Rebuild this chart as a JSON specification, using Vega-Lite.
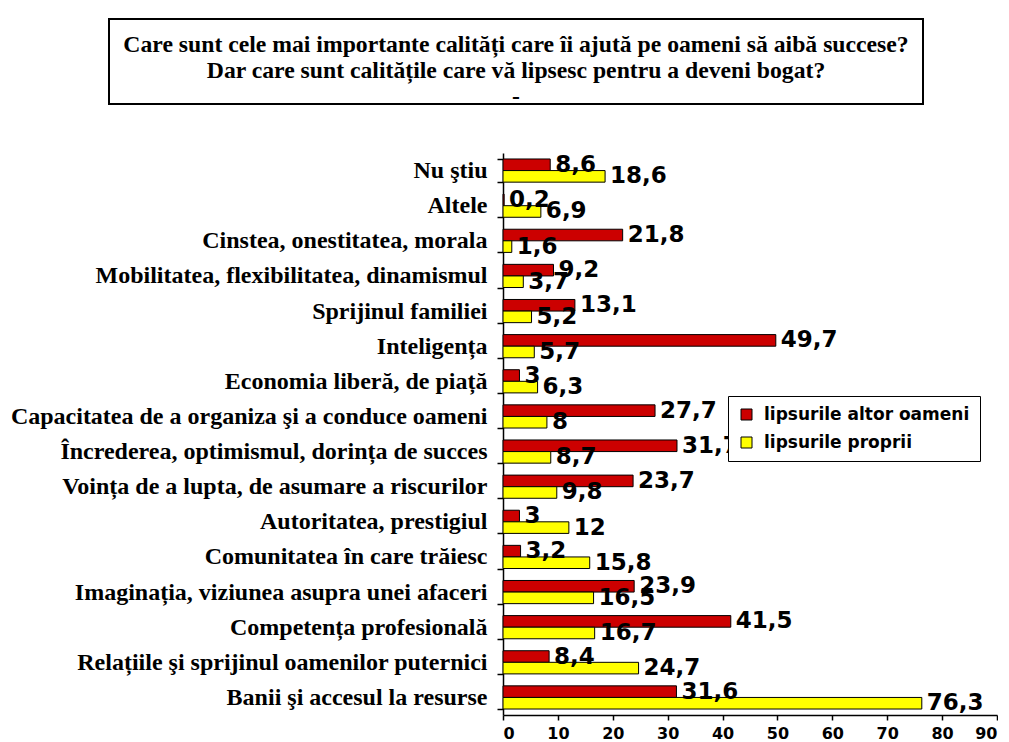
{
  "$schema": "https://vega.github.io/schema/vega-lite/v6.json",
  "padding": {"left": 9, "top": 18, "right": 0, "bottom": 5},
  "background": "white",
  "spacing": 30,
  "resolve": {"legend": {"color": "independent"}},
  "config": {
    "locale": {"number": {"decimal": ",", "thousands": ".", "grouping": [3], "currency": ["", " lei"]}},
    "axis": {"grid": false, "domainColor": "black", "tickColor": "black", "labelColor": "black"}
  },
  "vconcat": [
    {
      "spacing": 98,
      "hconcat": [
        {
          "width": 1,
          "height": 85,
          "view": {"stroke": null},
          "data": {"values": []},
          "mark": "point"
        },
        {
          "width": 814,
          "height": 85,
          "view": {"stroke": "black", "strokeWidth": 2, "fill": "white"},
          "data": {"values": [
            {"line": 1, "t": "Care sunt cele mai importante calități care îi ajută pe oameni să aibă succese?"},
            {"line": 2, "t": "Dar care sunt calitățile care vă lipsesc pentru a deveni bogat?"},
            {"line": 3, "t": "-"}
          ]},
          "mark": {"type": "text", "font": "Liberation Serif", "fontWeight": "bold", "fontSize": 23.7, "color": "black", "baseline": "middle", "align": "center"},
          "encoding": {
            "y": {"field": "line", "type": "quantitative", "scale": {"domain": [0, 3.25], "reverse": true}, "axis": null},
            "text": {"field": "t"}
          }
        }
      ]
    },
    {
      "spacing": 0,
      "resolve": {"legend": {"color": "independent"}},
      "hconcat": [
        {
          "width": 1,
          "height": 562,
          "view": {"stroke": null},
          "data": {"values": []},
          "mark": "point"
        },
        {
          "width": 494,
          "height": 562,
          "view": {"stroke": null},
          "data": {"values": [
            {"c": "Nu ştiu", "s": "lipsurile altor oameni", "v": 8.6},
            {"c": "Nu ştiu", "s": "lipsurile proprii", "v": 18.6},
            {"c": "Altele", "s": "lipsurile altor oameni", "v": 0.2},
            {"c": "Altele", "s": "lipsurile proprii", "v": 6.9},
            {"c": "Cinstea, onestitatea, morala", "s": "lipsurile altor oameni", "v": 21.8},
            {"c": "Cinstea, onestitatea, morala", "s": "lipsurile proprii", "v": 1.6},
            {"c": "Mobilitatea, flexibilitatea, dinamismul", "s": "lipsurile altor oameni", "v": 9.2},
            {"c": "Mobilitatea, flexibilitatea, dinamismul", "s": "lipsurile proprii", "v": 3.7},
            {"c": "Sprijinul familiei", "s": "lipsurile altor oameni", "v": 13.1},
            {"c": "Sprijinul familiei", "s": "lipsurile proprii", "v": 5.2},
            {"c": "Inteligența", "s": "lipsurile altor oameni", "v": 49.7},
            {"c": "Inteligența", "s": "lipsurile proprii", "v": 5.7},
            {"c": "Economia liberă, de piață", "s": "lipsurile altor oameni", "v": 3},
            {"c": "Economia liberă, de piață", "s": "lipsurile proprii", "v": 6.3},
            {"c": "Capacitatea de a organiza şi a conduce oameni", "s": "lipsurile altor oameni", "v": 27.7},
            {"c": "Capacitatea de a organiza şi a conduce oameni", "s": "lipsurile proprii", "v": 8},
            {"c": "Încrederea, optimismul, dorința de succes", "s": "lipsurile altor oameni", "v": 31.7},
            {"c": "Încrederea, optimismul, dorința de succes", "s": "lipsurile proprii", "v": 8.7},
            {"c": "Voința de a lupta, de asumare a riscurilor", "s": "lipsurile altor oameni", "v": 23.7},
            {"c": "Voința de a lupta, de asumare a riscurilor", "s": "lipsurile proprii", "v": 9.8},
            {"c": "Autoritatea, prestigiul", "s": "lipsurile altor oameni", "v": 3},
            {"c": "Autoritatea, prestigiul", "s": "lipsurile proprii", "v": 12},
            {"c": "Comunitatea în care trăiesc", "s": "lipsurile altor oameni", "v": 3.2},
            {"c": "Comunitatea în care trăiesc", "s": "lipsurile proprii", "v": 15.8},
            {"c": "Imaginația, viziunea asupra unei afaceri", "s": "lipsurile altor oameni", "v": 23.9},
            {"c": "Imaginația, viziunea asupra unei afaceri", "s": "lipsurile proprii", "v": 16.5},
            {"c": "Competența profesională", "s": "lipsurile altor oameni", "v": 41.5},
            {"c": "Competența profesională", "s": "lipsurile proprii", "v": 16.7},
            {"c": "Relațiile şi sprijinul oamenilor puternici", "s": "lipsurile altor oameni", "v": 8.4},
            {"c": "Relațiile şi sprijinul oamenilor puternici", "s": "lipsurile proprii", "v": 24.7},
            {"c": "Banii şi accesul la resurse", "s": "lipsurile altor oameni", "v": 31.6},
            {"c": "Banii şi accesul la resurse", "s": "lipsurile proprii", "v": 76.3}
          ]},
          "encoding": {
            "y": {
              "field": "c", "type": "nominal", "sort": null, "title": null,
              "scale": {"paddingInner": 0.34, "paddingOuter": 0.17},
              "axis": {"tickBand": "extent", "tickSize": 6, "labelPadding": 10, "labelLimit": 700,
                       "labelFont": "Liberation Serif", "labelFontWeight": "bold", "labelFontSize": 24,
                       "domainWidth": 1.5, "tickWidth": 1.5}
            },
            "x": {
              "field": "v", "type": "quantitative", "title": null,
              "scale": {"domain": [0, 90], "nice": false},
              "axis": {"values": [0, 10, 20, 30, 40, 50, 60, 70, 80, 90], "tickSize": 5, "labelPadding": 5,
                       "labelFont": "DejaVu Sans", "labelFontWeight": "bold", "labelFontSize": 16,
                       "domainWidth": 1.5, "tickWidth": 1.5}
            },
            "yOffset": {"field": "s", "type": "nominal", "sort": ["lipsurile altor oameni", "lipsurile proprii"]}
          },
          "layer": [
            {
              "mark": {"type": "bar", "stroke": "black", "strokeWidth": 1},
              "encoding": {
                "color": {
                  "field": "s", "type": "nominal",
                  "scale": {"domain": ["lipsurile altor oameni", "lipsurile proprii"], "range": ["#CC0000", "#FFFF00"]},
                  "legend": {
                    "title": null, "orient": "none", "legendX": 225, "legendY": 243,
                    "strokeColor": "black", "fillColor": "white", "padding": 10,
                    "symbolType": "square", "symbolSize": 121, "symbolStrokeColor": "black", "symbolStrokeWidth": 1,
                    "labelFont": "DejaVu Sans", "labelFontWeight": "bold", "labelFontSize": 17, "labelColor": "black",
                    "labelLimit": 400, "rowPadding": 10, "labelOffset": 9
                  }
                }
              }
            },
            {
              "mark": {"type": "text", "align": "left", "baseline": "middle", "dx": 5, "font": "DejaVu Sans", "fontWeight": "bold", "fontSize": 23, "color": "black"},
              "encoding": {
                "text": {"field": "v", "type": "quantitative", "format": ".1~f"}
              }
            }
          ]
        }
      ]
    }
  ]
}
